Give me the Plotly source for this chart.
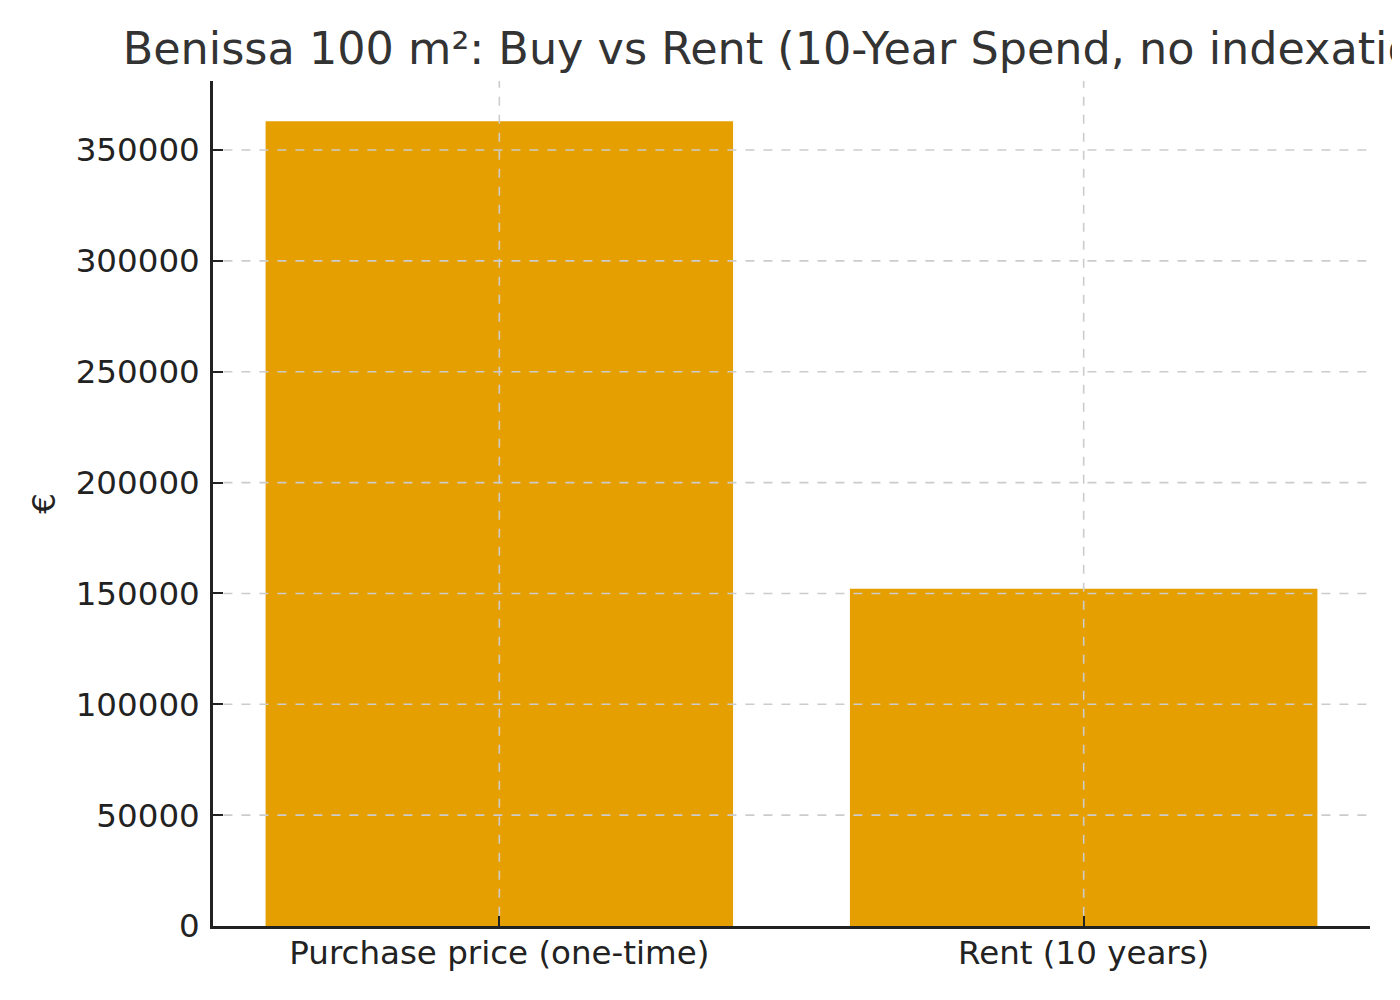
import plotly.graph_objects as go

categories = ["Purchase price (one-time)", "Rent (10 years)"]
values = [363000, 152100]
title_text = "Benissa 100 m²: Buy vs Rent (10-Year Spend, no indexation)"
y_ticks = [0, 50000, 100000, 150000, 200000, 250000, 300000, 350000]
x_positions = [0, 1]

fig = go.Figure(
    go.Bar(
        x=x_positions,
        y=values,
        width=0.8,
        marker=dict(color="#E69F00", line=dict(width=0)),
    )
)

font_family = "DejaVu Sans"
grid_color = "#cccccc"

# grid lines drawn above the bars (leaving the inside tick marks visible)
shapes = []
for v in y_ticks[1:]:
    shapes.append(dict(type="line", xref="paper", x0=0.009, x1=1, yref="y", y0=v, y1=v,
                       line=dict(color=grid_color, width=1.6, dash="dash"), layer="above"))
for xv in x_positions:
    shapes.append(dict(type="line", xref="x", x0=xv, x1=xv, yref="paper", y0=0.012, y1=1,
                       line=dict(color=grid_color, width=1.6, dash="dash"), layer="above"))

fig.update_layout(
    width=1392,
    height=992,
    paper_bgcolor="white",
    plot_bgcolor="white",
    margin=dict(l=205, r=30, t=73, b=74, pad=0),
    showlegend=False,
    shapes=shapes,
    font=dict(family=font_family, size=32.5, color="#222222"),
    title=dict(
        text=title_text,
        x=0.5,
        xref="paper",
        xanchor="center",
        y=1 - 40 / 992,
        yref="container",
        yanchor="middle",
        font=dict(family=font_family, size=44.5, color="#333333"),
    ),
)

fig.update_xaxes(
    range=[-0.49, 1.49],
    tickmode="array",
    tickvals=x_positions,
    ticktext=categories,
    showline=True,
    linecolor="#222222",
    linewidth=2.5,
    ticks="inside",
    ticklen=10,
    tickwidth=2,
    tickcolor="#222222",
    showgrid=False,
    zeroline=False,
    layer="above traces",
    ticklabelstandoff=-4,
    tickfont=dict(size=32.5, color="#222222"),
)

fig.update_yaxes(
    range=[0, 381150],
    tickmode="array",
    tickvals=y_ticks,
    ticktext=[str(v) for v in y_ticks],
    showline=True,
    linecolor="#222222",
    linewidth=2.5,
    ticks="inside",
    ticklen=10,
    tickwidth=2,
    tickcolor="#222222",
    showgrid=False,
    zeroline=False,
    layer="above traces",
    ticklabelstandoff=4,
    title=dict(text="€", standoff=11, font=dict(size=32.5, color="#222222")),
    tickfont=dict(size=32.5, color="#222222"),
)

fig.write_html("out.html")
